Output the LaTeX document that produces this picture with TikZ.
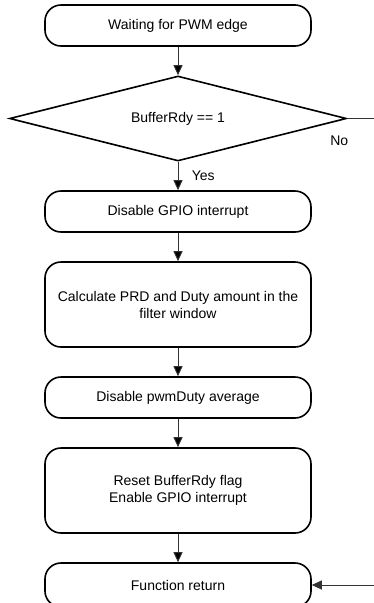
\documentclass[tikz,border=0pt]{standalone}
\usepackage{fontspec}
\setmainfont{Liberation Sans}
\usetikzlibrary{arrows.meta,positioning,shapes.geometric}

\begin{document}
\begin{tikzpicture}[>={Triangle[width=9pt,length=10pt]},node distance=28.4pt,
    font=\fontsize{14}{17}\selectfont,
    stepbox/.style={draw,line width=1.6pt,rounded corners=16pt,minimum width=266pt,
      minimum height=41pt,align=center,inner sep=0pt},
    tallbox/.style={stepbox,minimum height=85pt},
    decision/.style={draw,diamond,aspect=3.96,line width=1.6pt,minimum width=337pt,
      minimum height=85pt,inner sep=0pt},
    flow/.style={->,line width=0.9pt,draw=black!80}]

    \useasboundingbox (0,0) rectangle (374pt,-603pt);
    \coordinate (edge) at (374pt,0);

    \node[stepbox] (wait) at (178pt,-25.5pt) {Waiting for PWM edge};
    \node[decision] (rdy) [below=of wait] {BufferRdy == 1};
    \node[stepbox] (gpiooff) [below=of rdy] {Disable GPIO interrupt};
    \node[tallbox] (calc) [below=of gpiooff] {Calculate PRD and Duty amount in the\\filter window};
    \node[stepbox] (avg) [below=of calc] {Disable pwmDuty average};
    \node[tallbox] (reset) [below=of avg] {Reset BufferRdy flag\\Enable GPIO interrupt};
    \node[stepbox,minimum height=44pt] (ret) [below=of reset] {Function return};

    \path[flow] (wait) edge (rdy)
                (rdy) edge node[right=10pt] {Yes} (gpiooff)
                (gpiooff) edge (calc)
                (calc) edge (avg)
                (avg) edge (reset)
                (reset) edge (ret);

    % way out when the buffer is not ready
    \draw[line width=0.9pt,black!80] (rdy.east) -- (rdy.east -| edge);
    \node (lblno) at ([shift={(-8pt,-22pt)}]rdy.east) {No};
    \draw[flow] (ret.east -| edge) -- (ret.east);

\end{tikzpicture}
\end{document}
